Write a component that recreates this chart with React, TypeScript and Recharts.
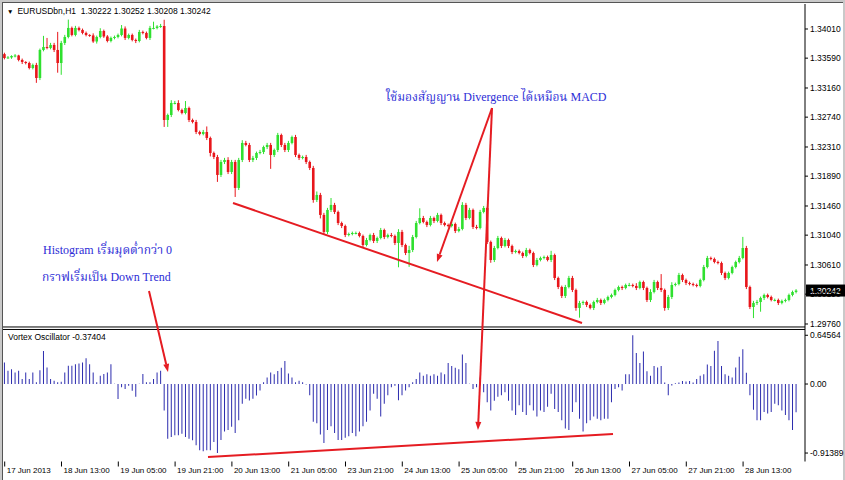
import React from "react";
import { ComposedChart, Bar, XAxis, YAxis, ReferenceLine } from "recharts";

// EURUSD H1, 17-28 Jun 2013, one close per bar (open = previous close)
const firstOpen = 1.33648;
const closes = [
  1.33592, 1.336, 1.33621, 1.33628, 1.33564, 1.33535, 1.3352, 1.33448, 1.33492, 1.33304,
  1.33708, 1.33751, 1.33737, 1.3378, 1.33708, 1.3352, 1.33809, 1.33895, 1.34025, 1.33924,
  1.34025, 1.33996, 1.33953, 1.33924, 1.33917, 1.3383, 1.33895, 1.33981, 1.33902, 1.33837,
  1.33881, 1.33895, 1.33924, 1.34017, 1.33881, 1.33924, 1.33852, 1.33837, 1.33967, 1.33953,
  1.33881, 1.34025, 1.34025, 1.34046, 1.34053, 1.32699, 1.32771, 1.32944, 1.32944, 1.32843,
  1.328, 1.32872, 1.32699, 1.3267, 1.32526, 1.32498, 1.32526, 1.3244, 1.32224, 1.32166,
  1.31907, 1.32094, 1.32123, 1.3195, 1.32094, 1.3172, 1.32123, 1.32368, 1.32339, 1.32123,
  1.32152, 1.32224, 1.32238, 1.3231, 1.32339, 1.32195, 1.32267, 1.32483, 1.32339, 1.32267,
  1.32368, 1.32454, 1.32195, 1.32152, 1.32166, 1.32094, 1.32008, 1.31547, 1.31619, 1.31331,
  1.31086, 1.31403, 1.31475, 1.31374, 1.31215, 1.31172, 1.31042, 1.31057, 1.31071, 1.31071,
  1.31028, 1.30898, 1.3097, 1.31042, 1.30956, 1.30999, 1.31114, 1.31013, 1.31042, 1.31028,
  1.30927, 1.31086, 1.30898, 1.30783, 1.30826, 1.31013, 1.31215, 1.31287, 1.3123, 1.31186,
  1.31287, 1.31244, 1.31331, 1.31215, 1.31186, 1.31172, 1.31201, 1.311, 1.31129, 1.31475,
  1.31287, 1.31403, 1.31158, 1.31143, 1.31374, 1.31431, 1.30942, 1.30682, 1.30855, 1.30999,
  1.30884, 1.3097, 1.30884, 1.30797, 1.30812, 1.30783, 1.3074, 1.30826, 1.30783, 1.3061,
  1.30682, 1.30711, 1.30725, 1.30682, 1.30754, 1.30423, 1.30293, 1.30164, 1.30293, 1.30423,
  1.3025, 1.29991, 1.30063, 1.30077, 1.30034, 1.29991, 1.30077, 1.30106, 1.30063, 1.30106,
  1.30149, 1.30178, 1.3025, 1.30293, 1.30279, 1.30322, 1.30322, 1.30308, 1.30279, 1.30365,
  1.30279, 1.30106, 1.30221, 1.30365, 1.30279, 1.3025, 1.29991, 1.30149, 1.30322, 1.30336,
  1.30466, 1.30394, 1.30351, 1.30336, 1.30322, 1.30308, 1.30394, 1.30581, 1.30711, 1.30697,
  1.30653, 1.30639, 1.30495, 1.30423, 1.30495, 1.30581, 1.30653, 1.30711, 1.30855, 1.30293,
  1.30005, 1.30063, 1.30077, 1.30135, 1.30178, 1.30149, 1.30106, 1.30106, 1.30063, 1.30092,
  1.30106, 1.30178, 1.30221, 1.30242,
];
// wick lengths beyond the body, in pips
const wickUp = [
  2, 2, 1, 2, 1, 2, 1, 2, 2, 3, 2, 16, 13, 3, 3, 26, 3, 3, 12, 2,
  3, 2, 2, 2, 1, 3, 2, 4, 2, 2, 2, 2, 2, 5, 3, 2, 2, 2, 3, 2,
  2, 3, 9, 2, 3, 9, 2, 4, 3, 4, 2, 10, 2, 2, 3, 2, 3, 8, 2, 2,
  3, 3, 3, 4, 3, 3, 3, 4, 3, 3, 3, 2, 3, 2, 3, 3, 2, 3, 2, 3,
  3, 2, 3, 2, 2, 3, 2, 3, 5, 3, 3, 3, 10, 3, 2, 2, 2, 2, 2, 2,
  2, 2, 3, 2, 3, 2, 3, 2, 2, 3, 2, 4, 3, 2, 6, 3, 3, 14, 3, 2,
  3, 2, 3, 2, 2, 2, 3, 2, 3, 4, 3, 3, 2, 3, 3, 3, 2, 2, 3, 3,
  2, 3, 2, 2, 2, 2, 2, 3, 2, 2, 3, 2, 2, 2, 6, 2, 2, 2, 3, 3,
  3, 2, 3, 2, 2, 2, 2, 3, 2, 2, 2, 2, 2, 2, 2, 2, 3, 2, 4, 2,
  2, 2, 4, 3, 2, 20, 2, 3, 4, 2, 3, 2, 2, 2, 2, 2, 2, 3, 3, 2,
  2, 2, 2, 2, 2, 2, 2, 3, 16, 3, 2, 3, 3, 2, 2, 2, 2, 2, 2, 2,
  2, 2, 2, 2,
];
const wickDown = [
  2, 1, 2, 2, 2, 3, 2, 2, 2, 7, 3, 2, 2, 2, 3, 14, 17, 3, 2, 2,
  2, 2, 2, 2, 2, 2, 3, 2, 2, 2, 2, 2, 2, 2, 3, 2, 2, 3, 2, 2,
  2, 3, 2, 2, 2, 10, 10, 3, 2, 2, 2, 2, 3, 2, 3, 2, 2, 3, 5, 3,
  10, 3, 3, 3, 3, 13, 3, 3, 2, 3, 3, 3, 2, 3, 3, 20, 3, 3, 3, 3,
  3, 2, 3, 3, 2, 3, 3, 4, 3, 5, 4, 3, 3, 3, 3, 3, 3, 2, 2, 2,
  2, 3, 2, 2, 3, 3, 2, 3, 2, 2, 3, 35, 3, 3, 20, 3, 2, 2, 2, 3,
  2, 3, 2, 3, 2, 2, 2, 3, 2, 2, 3, 2, 3, 2, 2, 2, 3, 4, 3, 2,
  3, 2, 3, 3, 2, 2, 3, 2, 2, 3, 2, 2, 2, 2, 3, 3, 3, 3, 3, 2,
  3, 4, 14, 3, 3, 2, 3, 2, 3, 2, 2, 2, 2, 2, 3, 2, 2, 2, 3, 2,
  3, 3, 3, 2, 3, 3, 4, 3, 3, 2, 2, 3, 3, 2, 2, 2, 2, 2, 2, 2,
  2, 2, 3, 3, 2, 2, 2, 2, 2, 3, 3, 16, 3, 14, 3, 2, 2, 2, 3, 2,
  2, 2, 2, 2,
];
const vortex = [
  0.285, 0.175, 0.197, 0.154, 0.175, 0.066, 0.154, 0.066, 0.154, 0.022,
  0.184, 0.439, 0.219, 0.066, 0.044, 0.022, 0.03, 0.154, 0.241, 0.241,
  0.263, 0.272, 0.285, 0.342, 0.263, 0.154, 0.022, 0.11, 0.132, 0.154,
  0.263, 0.004, -0.197, -0.044, -0.066, -0.022, -0.088, -0.167, 0.004, 0.132,
  0.022, 0.022, 0.066, 0.154, 0.175, -0.351, -0.724, -0.702, -0.68, -0.68,
  -0.658, -0.702, -0.724, -0.746, -0.811, -0.877, -0.891, -0.877, -0.877, -0.768,
  -0.91389, -0.74, -0.63, -0.61, -0.565, -0.65, -0.48, -0.26, -0.195, -0.217,
  -0.195, -0.152, -0.087, 0.022, 0.087, 0.152, 0.13, 0.174, 0.217, 0.304,
  0.14, 0.087, 0.022, 0.044, 0.022, -0.005, -0.15, -0.5, -0.52, -0.67,
  -0.78, -0.61, -0.56, -0.65, -0.74, -0.74, -0.71, -0.69, -0.65, -0.69,
  -0.63, -0.56, -0.5, -0.35, -0.13, -0.195, -0.43, -0.26, -0.15, -0.043,
  -0.022, -0.216, -0.15, -0.087, -0.043, 0.022, 0.065, 0.152, 0.108, 0.13,
  0.108, 0.13, 0.108, 0.152, 0.13, 0.28, 0.24, 0.217, 0.195, 0.39,
  0.28, 0.004, -0.065, -0.043, 0.087, -0.11, -0.24, -0.35, -0.22, -0.17,
  -0.15, -0.11, -0.22, -0.35, -0.41, -0.28, -0.37, -0.41, -0.28, -0.35,
  -0.43, -0.35, -0.37, -0.3, -0.13, -0.33, -0.37, -0.48, -0.59, -0.61,
  -0.37, -0.24, -0.46, -0.63, -0.52, -0.48, -0.43, -0.46, -0.48, -0.46,
  -0.46, -0.24, -0.065, -0.043, -0.087, 0.13, 0.13, 0.64564, 0.41, 0.28,
  0.43, 0.17, 0.11, 0.24, 0.22, 0.24, 0.02, -0.15, -0.02, 0.01,
  0.02, 0.04, 0.035, 0.04, 0.02, 0.065, 0.11, 0.13, 0.26, 0.24,
  0.44, 0.57, 0.24, 0.13, 0.11, 0.087, 0.22, 0.36, 0.46, 0.15,
  -0.15, -0.34, -0.48, -0.48, -0.37, -0.39, -0.37, -0.26, -0.28, -0.35,
  -0.41, -0.48, -0.61, -0.37404,
];

const timeTicks = [0, 16, 32, 48, 64, 80, 96, 112, 128, 144, 160, 176, 192, 208];
const timeLabels = [
  "17 Jun 2013", "18 Jun 13:00", "19 Jun 05:00", "19 Jun 21:00", "20 Jun 13:00", "21 Jun 05:00", "23 Jun 21:00",
  "24 Jun 13:00", "25 Jun 05:00", "25 Jun 21:00", "26 Jun 13:00", "27 Jun 05:00", "27 Jun 21:00", "28 Jun 13:00",
];
const priceTicks = [1.3401, 1.3359, 1.3316, 1.3274, 1.3231, 1.3189, 1.3146, 1.3104, 1.3061, 1.3019, 1.2976];
const vortexTicks = [0.64564, 0, -0.91389];
const symbolName = "EURUSDbn,H1";
const lastBarOhlc = [1.30222, 1.30252, 1.30208, 1.30242];
const lastPrice = 1.30242;

// hand-drawn notes, in chart data coordinates (bar index, price / oscillator value)
const noteLines = [
  { axis: "price", x1: 64.31, y1: 1.31503, x2: 162.62, y2: 1.29775, arrow: false },
  { axis: "osc", x1: 57.27, y1: -0.967, x2: 171.35, y2: -0.662, arrow: false },
  { axis: "price", x1: 40.65, y1: 1.30236, x2: 46.0, y2: 1.29069, arrow: true },
  { axis: "price", x1: 137.27, y1: 1.32872, x2: 121.77, y2: 1.30653, arrow: true },
  { axis: "price", x1: 137.27, y1: 1.32872, x2: 133.32, y2: 1.28233, arrow: true },
];

const PIP = 0.0001;
const GREEN = "#2fe02f";
const RED = "#e8161b";
const OSC_BLUE = "#2c2cae";
const NOTE_RED = "#e51c22";
const NOTE_BLUE = "#2c2cd6";
const AXIS_FONT = "'Liberation Sans', Arial, sans-serif";
const NOTE_FONT = "'Liberation Serif', 'Noto Serif Thai', 'Noto Sans Thai', serif";

const data = closes.map((c, i) => {
  const open = i === 0 ? firstOpen : closes[i - 1];
  const high = Math.max(open, c) + wickUp[i] * PIP;
  const low = Math.min(open, c) - wickDown[i] * PIP;
  return { i, open, close: c, high, low, range: [low, high], vortex: vortex[i] };
});

function Candle(props: any) {
  const { x, y, width, height, payload } = props;
  const { open, close, high, low } = payload;
  const span = high - low;
  const yAt = (v: number) => (span === 0 ? y : y + ((high - v) / span) * height);
  const cx = x + width / 2;
  const color = close >= open ? GREEN : RED;
  const top = yAt(Math.max(open, close));
  const bot = yAt(Math.min(open, close));
  return (
    <g>
      <line x1={cx} x2={cx} y1={y} y2={y + height} stroke={color} strokeWidth={1} />
      <rect x={cx - 1.3} y={top} width={2.6} height={Math.max(1, bot - top)} fill={color} />
    </g>
  );
}

function NoteLine(props: any) {
  const { x1, y1, x2, y2, arrow } = props;
  const a = Math.atan2(y2 - y1, x2 - x1);
  const len = 8, half = 3;
  const bx = x2 - len * Math.cos(a), by = y2 - len * Math.sin(a);
  const px = -Math.sin(a) * half, py = Math.cos(a) * half;
  return (
    <g>
      <line x1={x1} y1={y1} x2={arrow ? bx : x2} y2={arrow ? by : y2} stroke={NOTE_RED} strokeWidth={2} />
      {arrow && <polygon points={`${x2},${y2} ${bx + px},${by + py} ${bx - px},${by - py}`} fill={NOTE_RED} />}
    </g>
  );
}

function PriceTick({ x, y, payload }: any) {
  return (
    <g>
      <line x1={x} x2={x + 3} y1={y} y2={y} stroke="#000" />
      <text x={x + 5} y={y} dy="0.35em" fontSize={8.5} fontFamily={AXIS_FONT} fill="#000">{payload.value.toFixed(5)}</text>
    </g>
  );
}

// time labels hang below the plot's bottom edge
const timeLabel = (text: string) => (p: any) => {
  const vb = p.viewBox;
  const bottom = vb.y + vb.height;
  return (
    <g>
      <line x1={vb.x} x2={vb.x} y1={bottom} y2={bottom + 5} stroke="#000" />
      <text x={vb.x + 2} y={bottom + 11.5} fontSize={8} fontFamily={AXIS_FONT} fill="#000">{text}</text>
    </g>
  );
};

const oscLabel = (v: number) => (p: any) => {
  const vb = p.viewBox;
  const x = vb.x + vb.width;
  return (
    <g>
      <line x1={x} x2={x + 3} y1={vb.y} y2={vb.y} stroke="#000" />
      <text x={x + 5} y={vb.y} dy="0.35em" fontSize={8.5} fontFamily={AXIS_FONT} fill="#000">{v === 0 ? "0.00" : v.toFixed(5)}</text>
    </g>
  );
};

const lastPriceLabel = (p: any) => {
  const vb = p.viewBox;
  const x = vb.x + vb.width;
  return (
    <g>
      <rect x={x + 1} y={vb.y - 6} width={39} height={12} fill="#000" />
      <text x={x + 5} y={vb.y} dy="0.35em" fontSize={8.5} fontFamily={AXIS_FONT} fill="#fff">{lastPrice.toFixed(5)}</text>
    </g>
  );
};

export default function App() {
  const xDomain = [-0.479, 225.44];
  return (
    <div style={{ position: "absolute", left: 0, top: 0, width: 845, height: 480, background: "#c9c9c9", overflow: "hidden" }}>
      <div style={{ position: "absolute", left: 2, top: 2, width: 840, height: 478, background: "#fff", borderTop: "1px solid #555", borderLeft: "1px solid #555" }} />
      <div style={{ position: "absolute", left: 0, top: 0 }}>
        <ComposedChart width={845} height={480} data={data} margin={{ top: 4, left: 3, right: 2, bottom: 2 }}>
          <XAxis xAxisId="bars" dataKey="i" type="number" domain={xDomain} allowDataOverflow hide />
          <XAxis xAxisId="time" dataKey="i" type="number" domain={xDomain} allowDataOverflow ticks={timeTicks}
            height={16.5} tick={false} tickLine={false} axisLine={{ stroke: "#000" }} />
          <YAxis yAxisId="price" orientation="right" type="number" domain={[1.27779, 1.3437]} allowDataOverflow ticks={priceTicks}
            interval={0} width={38} tickSize={0} tickMargin={0} tickLine={false} axisLine={{ stroke: "#000" }} tick={<PriceTick />} />
          <YAxis yAxisId="osc" type="number" domain={[-1.026, 5.033]} allowDataOverflow hide />

          <ReferenceLine xAxisId="bars" yAxisId="price" y={1.29717} stroke="#000" />
          <ReferenceLine xAxisId="bars" yAxisId="price" y={1.29681} stroke="#000" />

          <Bar xAxisId="bars" yAxisId="price" dataKey="range" barSize={3} shape={<Candle />} isAnimationActive={false} />
          <Bar xAxisId="time" yAxisId="osc" dataKey="vortex" barSize={1} fill={OSC_BLUE} isAnimationActive={false} />

          {timeTicks.map((t, k) => (
            <ReferenceLine key={"t" + t} xAxisId="time" yAxisId="osc" x={t} stroke="none" label={timeLabel(timeLabels[k])} />
          ))}
          {vortexTicks.map((v) => (
            <ReferenceLine key={v} xAxisId="bars" yAxisId="osc" y={v} stroke="none" label={oscLabel(v)} />
          ))}
          <ReferenceLine xAxisId="bars" yAxisId="price" y={lastPrice} stroke="none" label={lastPriceLabel} />

          {noteLines.map((n, k) => (
            <ReferenceLine key={k} xAxisId="bars" yAxisId={n.axis} ifOverflow="visible"
              segment={[{ x: n.x1, y: n.y1 }, { x: n.x2, y: n.y2 }]}
              shape={(p: any) => <NoteLine {...p} arrow={n.arrow} />} />
          ))}
        </ComposedChart>
      </div>

      <div style={{ position: "absolute", left: 7, top: 5, fontFamily: AXIS_FONT, fontSize: 8.5, lineHeight: "12px", whiteSpace: "pre", color: "#000" }}>
        <span style={{ fontSize: 6.5, marginRight: 4 }}>▼</span>{symbolName}  {lastBarOhlc.map((v) => v.toFixed(5)).join(" ")}
      </div>
      <div style={{ position: "absolute", left: 8, top: 331, fontFamily: AXIS_FONT, fontSize: 8.5, lineHeight: "12px", whiteSpace: "pre", color: "#000" }}>
        Vortex Oscillator {vortex[vortex.length - 1].toFixed(5)}
      </div>

      <div style={{ position: "absolute", left: 43, top: 242, fontFamily: NOTE_FONT, fontSize: 12, lineHeight: "16px", whiteSpace: "pre", color: NOTE_BLUE }}>
        Histogram เริ่มมุดต่ำกว่า 0
      </div>
      <div style={{ position: "absolute", left: 42, top: 269, fontFamily: NOTE_FONT, fontSize: 12, lineHeight: "16px", whiteSpace: "pre", color: NOTE_BLUE }}>
        กราฟเริ่มเป็น Down Trend
      </div>
      <div style={{ position: "absolute", left: 386, top: 89, fontFamily: NOTE_FONT, fontSize: 12, lineHeight: "16px", whiteSpace: "pre", color: NOTE_BLUE }}>
        ใช้มองสัญญาน Divergence ได้เหมือน MACD
      </div>
    </div>
  );
}
